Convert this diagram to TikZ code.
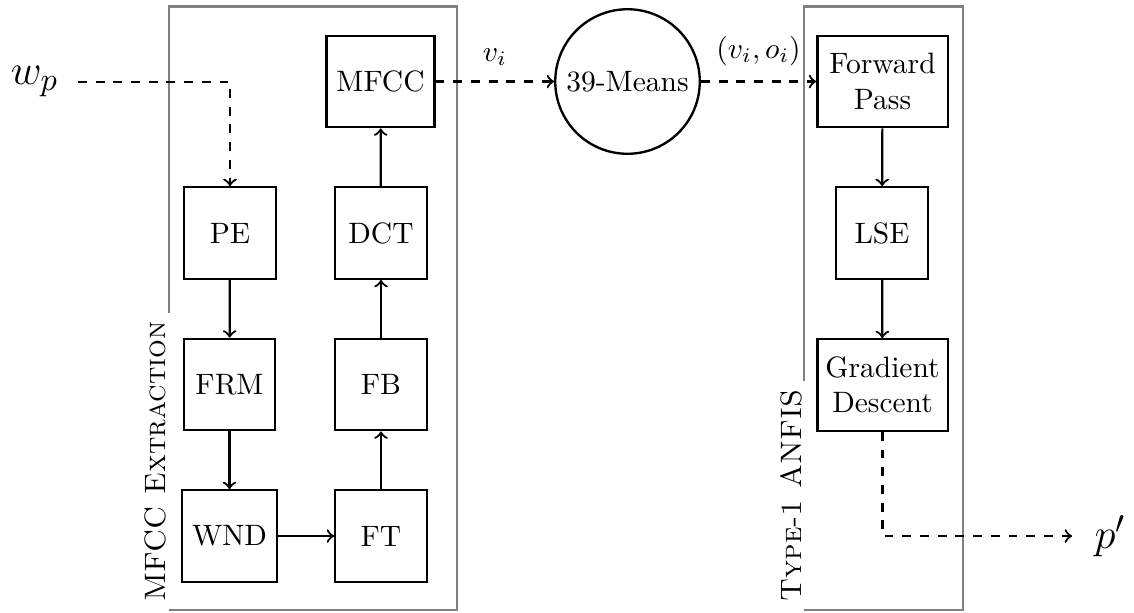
\documentclass[tikz,border=0pt]{standalone}
\usetikzlibrary{arrows}
\begin{document}
\begin{tikzpicture}[x=0.339pt,y=-0.339pt,
  blk/.style={draw,line width=0.8pt,minimum width=31pt,minimum height=31pt,align=center},
  wblk/.style={blk,minimum width=44.2pt,inner xsep=2pt},
  ring/.style={draw,line width=0.8pt,circle,minimum size=49pt,inner sep=0pt},
  grp/.style={draw=black!50,line width=0.7pt},
  grplabel/.style={rotate=90,anchor=base,inner sep=0pt},
  flow/.style={->,line width=0.75pt},
  dflow/.style={->,dashed,line width=0.75pt},
  lbl/.style={above=3pt,inner sep=2pt},
  big/.style={font=\fontsize{15.8pt}{19pt}\selectfont}]
\useasboundingbox (0,0) rectangle (1134,612);
% group frames
\draw[grp] (169,313) -- (169,6.5) -- (457,6.5) -- (457,610) -- (169,610);
\draw[grp] (804,381) -- (804,6.5) -- (963,6.5) -- (963,610) -- (804,610);
\node[grplabel] (lab1) at (165,461.5) {\textsc{MFCC Extraction}};
\node[grplabel] (lab2) at (801,495.5) {\textsc{Type-1 ANFIS}};
% nodes
\node[big,anchor=east,inner xsep=6.5pt,inner ysep=0pt] (wp) at (78,81.7) {$w_p$};
\node[blk] (pe)   at (230,233)   {PE};
\node[blk] (frm)  at (229.5,384.5) {FRM};
\node[blk] (wnd)  at (229.5,536) {WND};
\node[blk] (ft)   at (381,536)   {FT};
\node[blk] (fb)   at (381,384.5) {FB};
\node[blk] (dct)  at (381,233)   {DCT};
\node[blk] (mfcc) at (380.5,81.5) {MFCC};
\node[ring] (km)  at (627.5,81.5) {39-Means};
\node[wblk] (fp)  at (882.5,81.5) {Forward\\Pass};
\node[blk] (lse)  at (882,233)   {LSE};
\node[wblk] (gd)  at (882.5,385) {Gradient\\Descent};
\node[big,anchor=west,inner xsep=7.5pt,inner ysep=0pt] (pout) at (1072,536) {$p'$};
% connectors
\draw[dflow] (wp.east) -| (pe.north);
\draw[flow] (pe) -- (frm);
\draw[flow] (frm) -- (wnd);
\draw[flow] (wnd) -- (ft);
\draw[flow] (ft) -- (fb);
\draw[flow] (fb) -- (dct);
\draw[flow] (dct) -- (mfcc);
\draw[dflow] (mfcc) -- node[lbl] {$v_i$} (km);
\draw[dflow] (km) -- node[lbl] {$(v_i,o_i)$} (fp);
\draw[flow] (fp) -- (lse);
\draw[flow] (lse) -- (gd);
\draw[dflow] (gd.south) |- (pout.west);
\end{tikzpicture}
\end{document}
